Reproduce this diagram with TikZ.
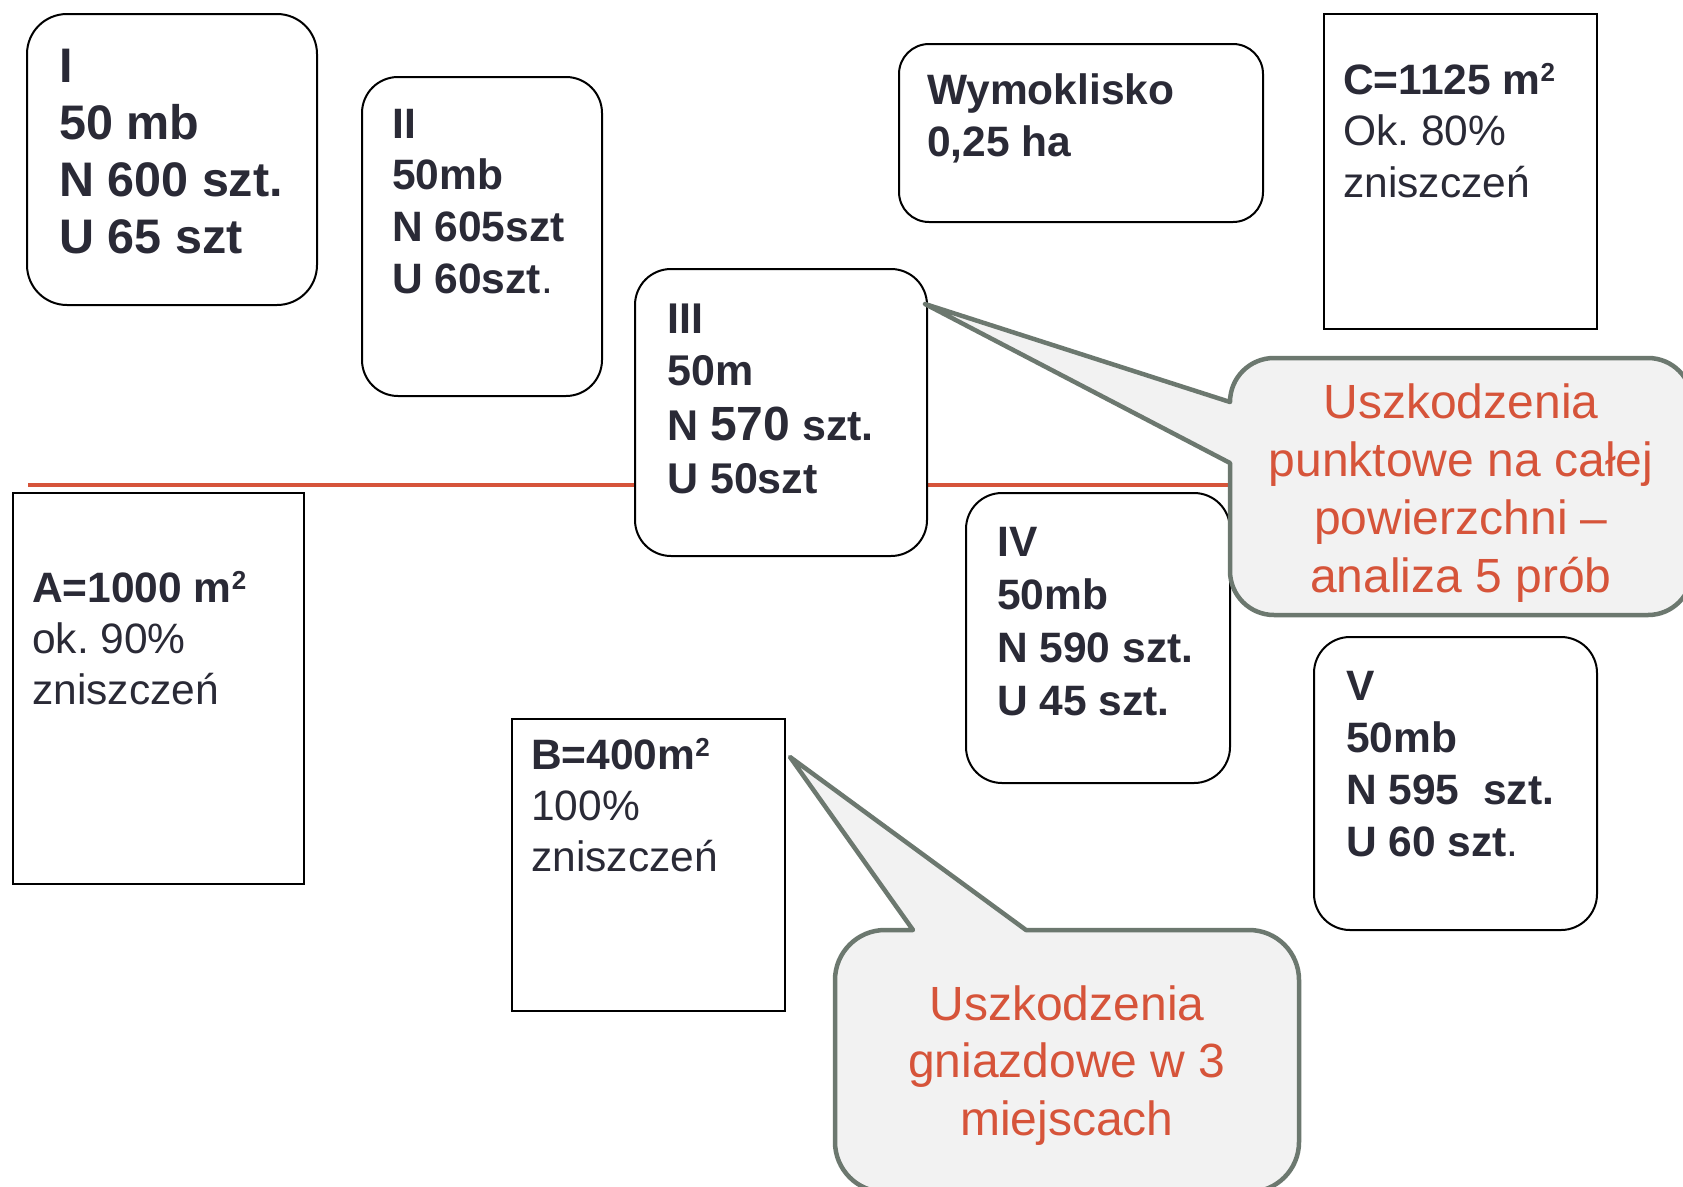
\documentclass[tikz,border=0pt]{standalone}
\usepackage{fontspec}
\setmainfont{Liberation Sans}
\definecolor{txt}{RGB}{42,42,54}
\definecolor{accent}{RGB}{214,84,58}
\definecolor{cborder}{RGB}{108,120,111}
\definecolor{cfill}{RGB}{242,242,242}
\newcommand\lns[1]{\vtop{\halign{##\hfil\cr#1\crcr}}}
\newcommand\clns[1]{\vtop{\halign{\hfil##\hfil\cr#1\crcr}}}
\newcommand\sq{\raisebox{0.55ex}{\fontsize{26}{26}\selectfont 2}}
\frenchspacing
\begin{document}
\begin{tikzpicture}[x=1pt,y=-1pt,
  rbox/.style={draw=black, line width=2pt, fill=white, rounded corners=#1, inner sep=0pt, anchor=north west},
  rbox/.default=36pt,
  sbox/.style={draw=black, line width=2pt, fill=white, inner sep=0pt, anchor=north west},
  lbl/.style={inner sep=0pt, anchor=base west, text=txt, font=\fontsize{42.5}{51.7}\selectfont},
  ctext/.style={inner sep=0pt, anchor=base, text=accent, font=\fontsize{48}{58}\selectfont},
  callout/.style={draw=cborder, line width=4.5pt, fill=cfill, line join=round},
  redline/.style={draw=accent, line width=4pt}]
\useasboundingbox (0,0) rectangle (1683,1186);
\clip (0,0) rectangle (1683,1186);
\fill[white] (0,0) rectangle (1683,1186);

% red line
\coordinate (rl1) at (28,485);
\coordinate (rl2) at (1232,485);
\draw[redline] (rl1) -- (rl2);

% boxes
\node[rbox=40pt, minimum width=290pt, minimum height=291pt] (boxI) at (26,13) {};
\node[rbox, minimum width=240pt, minimum height=319pt] (boxII) at (361,76) {};
\node[rbox, minimum width=292pt, minimum height=287pt] (boxIII) at (634,268) {};
\node[rbox=30pt, minimum width=364pt, minimum height=178pt] (boxW) at (898,43) {};
\node[sbox, minimum width=273pt, minimum height=315pt] (boxC) at (1323,13) {};
\node[rbox, minimum width=264pt, minimum height=290pt] (boxIV) at (965,492) {};
\node[rbox, minimum width=283pt, minimum height=293pt] (boxV) at (1313,636) {};
\node[sbox, minimum width=291pt, minimum height=391pt] (boxA) at (12,492) {};
\node[sbox, minimum width=273pt, minimum height=292pt] (boxB) at (511,718) {};

% callouts
\draw[callout] (1230,402) arc[start angle=180,end angle=270,radius=44] -- (1648,358)
  arc[start angle=270,end angle=360,radius=44] -- (1692,571)
  arc[start angle=0,end angle=90,radius=44] -- (1274,615)
  arc[start angle=90,end angle=180,radius=44] -- (1230,463) -- (925,304) -- cycle;
\draw[callout] (1026,930) -- (1249,930) arc[start angle=270,end angle=360,radius=50] -- (1299,1142)
  arc[start angle=0,end angle=90,radius=50] -- (885,1192)
  arc[start angle=90,end angle=180,radius=50] -- (835,980)
  arc[start angle=180,end angle=270,radius=50] -- (913,930) -- (790,757) -- cycle;

% texts
\node[lbl, font=\fontsize{48.5}{57}\selectfont\bfseries] (tI) at (59,82)
  {\lns{I\cr 50 mb\cr N 600 szt.\cr U 65 szt}};
\node[lbl, font=\fontsize{42.5}{51.7}\selectfont\bfseries] (tII) at (392,138)
  {\lns{II\cr 50mb\cr N 605szt\cr U 60szt\textmd{.}}};
\node[lbl, font=\fontsize{43}{52}\selectfont\bfseries] (tIII) at (667,333)
  {\lns{III\cr 50m\cr\noalign{\vskip3pt} N {\fontsize{48}{52}\selectfont 570} szt.\cr\noalign{\vskip1pt} U 50szt}};
\node[lbl, font=\fontsize{42.5}{52}\selectfont\bfseries] (tW) at (927,104)
  {\lns{Wymoklisko\cr 0,25 ha}};
\node[lbl, font=\fontsize{42.5}{51.5}\selectfont] (tC) at (1343,94)
  {\lns{\textbf{C=1125 m\sq}\cr Ok. 80\%\cr zniszczeń}};
\node[lbl, font=\fontsize{42.5}{53.3}\selectfont\bfseries] (tIV) at (997,556)
  {\lns{IV\cr 50mb\cr N 590 szt.\cr U 45 szt.}};
\node[lbl, font=\fontsize{42.5}{52}\selectfont\bfseries] (tV) at (1346,700)
  {\lns{V\cr 50mb\cr N 595\ \ szt.\cr U 60 szt\textmd{.}}};
\node[lbl, font=\fontsize{42.5}{51}\selectfont] (tA) at (32,602)
  {\lns{\textbf{A=1000 m\sq}\cr ok. 90\%\cr zniszczeń}};
\node[lbl, font=\fontsize{42.5}{51.3}\selectfont] (tB) at (531,769)
  {\lns{\textbf{B=400m\sq}\cr 100\%\cr zniszczeń}};

\node[ctext] (tc1) at (1461,418)
  {\clns{Uszkodzenia\cr punktowe na całej\cr powierzchni –\cr analiza 5 prób}};
\node[ctext, font=\fontsize{48}{57.5}\selectfont] (tc2) at (1067,1020)
  {\clns{Uszkodzenia\cr gniazdowe w 3\cr miejscach}};
\end{tikzpicture}
\end{document}
